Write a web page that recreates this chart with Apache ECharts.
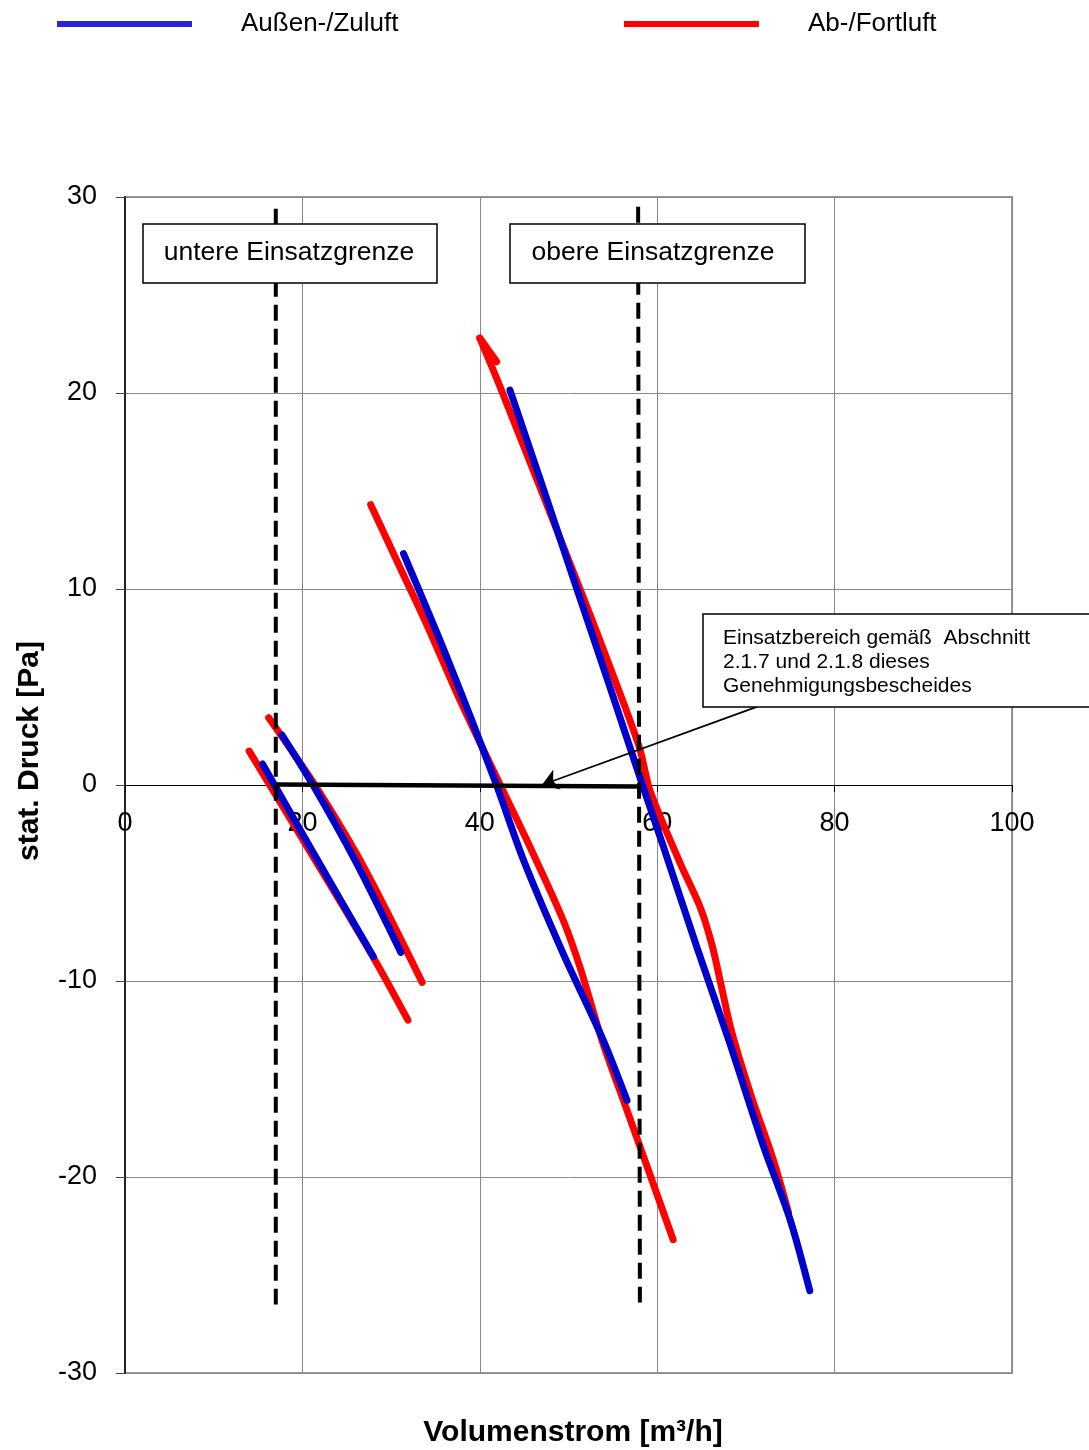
<!DOCTYPE html>
<html>
<head>
<meta charset="utf-8">
<script src="https://cdn.jsdelivr.net/npm/echarts@6/dist/echarts.min.js"></script>
<style>
html,body{margin:0;padding:0;background:#fff;}
#chart{width:1089px;height:1450px;}
</style>
</head>
<body>
<div id="chart"></div>
<script>
// ---- data ----
var seriesNames = ['Außen-/Zuluft', 'Ab-/Fortluft'];
var xTicks = [0, 20, 40, 60, 80, 100];
var yTicks = [-30, -20, -10, 0, 10, 20, 30];

// Ab-/Fortluft (red) curves
var redCurve1 = [[14.0, 1.73], [21.0, -3.5], [28.0, -8.8], [31.9, -12.0]];
var redCurve2 = [[16.2, 3.43], [21.4, 0.0], [26.9, -4.17], [33.5, -10.07]];
var redCurve3 = [[27.7, 14.3], [31.0, 11.1], [34.0, 8.2], [37.8, 4.3], [42.2, 0.1], [45.7, -3.2], [49.4, -6.9], [51.3, -9.3], [53.9, -13.2], [56.6, -16.6], [58.1, -18.5], [61.8, -23.2]];
var redCurve4Tip = [[40.0, 22.8], [41.9, 21.6]];
var redCurve4 = [[40.0, 22.8], [42.3, 20.3], [51.3, 10.0], [55.2, 5.4], [58.0, 1.9], [59.2, -0.3], [62.6, -4.0], [64.9, -6.3], [66.2, -8.2], [67.2, -10.2], [68.4, -12.6], [70.7, -16.0], [73.0, -19.0], [74.8, -21.8]];

// Außen-/Zuluft (blue) curves
var blueCurve1 = [[15.5, 1.07], [21.7, -3.83], [28.0, -8.76]];
var blueCurve2 = [[17.7, 2.55], [21.2, 0.0], [26.0, -3.9], [31.1, -8.54]];
var blueCurve3 = [[31.4, 11.8], [36.3, 6.5], [41.8, 0.1], [44.9, -3.8], [49.4, -8.6], [53.9, -13.0], [56.6, -16.1]];
var blueCurve4 = [[43.4, 20.15], [47.1, 15.2], [50.8, 10.2], [54.6, 5.1], [58.4, -0.08], [60.7, -3.15], [64.45, -8.25], [68.2, -13.2], [72.0, -18.45], [75.0, -22.2], [77.2, -25.8]];

// limits of use and marked operating range
var lowerLimit = [[17.0, 29.4], [17.0, -26.5]];
var upperLimit = [[57.85, 29.5], [58.05, -26.4]];
var rangeLine = [[17.0, 0.03], [57.9, -0.08]];
var arrowLine = [[71.3, 4.0], [47.0, 0.0]];

var lowerLabel = 'untere Einsatzgrenze';
var upperLabel = 'obere Einsatzgrenze';
var noteLines = ['Einsatzbereich gemäß  Abschnitt', '2.1.7 und 2.1.8 dieses', 'Genehmigungsbescheides'];

// ---- chart ----
var FONT = '"Liberation Sans", Arial, Helvetica, sans-serif';
var BLUE = '#0000CC';
var RED = '#FF0000';
var GRID = { left: 125, right: 77, top: 197, bottom: 77 };
var plotH = 1450 - GRID.top - GRID.bottom;
var zeroOffset = -plotH * (0 - yTicks[0]) / (yTicks[yTicks.length - 1] - yTicks[0]);

function curve(name, color, data, z) {
  return {
    type: 'line', name: name, data: data, smooth: 0.3, showSymbol: false, symbol: 'none',
    lineStyle: { color: color, width: 7, cap: 'round', join: 'round' },
    itemStyle: { color: color }, z: z, animation: false, silent: true
  };
}
function blackLine(data, width, dashed) {
  return {
    type: 'line', data: data, showSymbol: false, symbol: 'none',
    lineStyle: { color: '#000', width: width, type: dashed ? [16, 8] : 'solid' },
    z: 6, animation: false, silent: true
  };
}

var chart = echarts.init(document.getElementById('chart'), null, { renderer: 'canvas' });
chart.setOption({
  animation: false,
  backgroundColor: '#fff',
  textStyle: { fontFamily: FONT },
  grid: {
    left: GRID.left, right: GRID.right, top: GRID.top, bottom: GRID.bottom,
    outerBoundsMode: 'none', containLabel: false,
    show: true, borderColor: '#999', borderWidth: 2, backgroundColor: 'transparent'
  },
  legend: [
    {
      left: 52, top: 6, itemWidth: 135, itemHeight: 6, icon: 'rect',
      data: [{ name: seriesNames[0], itemStyle: { color: '#2B22E0' } }],
      textStyle: { fontSize: 26, color: '#000', fontFamily: FONT, padding: [0, 0, 0, 44] },
      selectedMode: false
    },
    {
      left: 619, top: 6, itemWidth: 135, itemHeight: 6, icon: 'rect',
      data: [{ name: seriesNames[1], itemStyle: { color: RED } }],
      textStyle: { fontSize: 26, color: '#000', fontFamily: FONT, padding: [0, 0, 0, 44] },
      selectedMode: false
    }
  ],
  xAxis: [
    {
      type: 'value', position: 'bottom', offset: zeroOffset,
      min: xTicks[0], max: xTicks[xTicks.length - 1], interval: 20,
      axisLine: { show: true, onZero: false, lineStyle: { color: '#000', width: 1 } },
      axisTick: { show: true, length: 7, lineStyle: { color: '#000' } },
      axisLabel: { fontSize: 27, color: '#000', margin: 25, fontFamily: FONT },
      splitLine: { show: true, lineStyle: { color: '#888', width: 1 } }
    },
    {
      type: 'value', position: 'bottom', min: xTicks[0], max: xTicks[xTicks.length - 1],
      axisLine: { show: false, onZero: false }, axisTick: { show: false }, axisLabel: { show: false },
      splitLine: { show: false },
      name: 'Volumenstrom [m³/h]', nameLocation: 'middle', nameGap: 45,
      nameTextStyle: { fontSize: 30, fontWeight: 'bold', color: '#000', fontFamily: FONT, padding: [0, 0, 0, 9] }
    }
  ],
  yAxis: {
    type: 'value', min: yTicks[0], max: yTicks[yTicks.length - 1], interval: 10,
    axisLine: { show: true, lineStyle: { color: '#222', width: 2 } },
    axisTick: { show: true, length: 9, lineStyle: { color: '#444' } },
    axisLabel: { fontSize: 27, color: '#000', margin: 28, fontFamily: FONT },
    splitLine: { show: true, lineStyle: { color: '#888', width: 1 } },
    name: 'stat. Druck [Pa]', nameLocation: 'middle', nameGap: 80, nameRotate: 90,
    nameTextStyle: { fontSize: 30, fontWeight: 'bold', color: '#000', fontFamily: FONT, padding: [0, 0, 0, 68] }
  },
  series: [
    curve(seriesNames[1], RED, redCurve1, 2),
    curve(seriesNames[1], RED, redCurve2, 2),
    curve(seriesNames[1], RED, redCurve3, 2),
    curve(seriesNames[1], RED, redCurve4, 2),
    curve(seriesNames[1], RED, redCurve4Tip, 2),
    curve(seriesNames[0], BLUE, blueCurve1, 3),
    curve(seriesNames[0], BLUE, blueCurve2, 3),
    curve(seriesNames[0], BLUE, blueCurve3, 3),
    curve(seriesNames[0], BLUE, blueCurve4, 3),
    blackLine(lowerLimit, 4, true),
    blackLine(upperLimit, 4, true),
    blackLine(rangeLine, 4.5, false),
    {
      type: 'lines', coordinateSystem: 'cartesian2d', polyline: false,
      data: [{ coords: arrowLine }],
      symbol: ['none', 'arrow'], symbolSize: [10, 16],
      lineStyle: { color: '#000', width: 1.8, opacity: 1, curveness: 0 },
      z: 7, animation: false, silent: true
    }
  ],
  graphic: [
    {
      type: 'group', z: 100,
      children: [
        { type: 'rect', shape: { x: 143, y: 224, width: 294, height: 59 }, style: { fill: '#fff', stroke: '#000', lineWidth: 1.5 }, z: 100 },
        { type: 'text', x: 289, y: 253, style: { text: lowerLabel, font: '26.5px ' + FONT, fill: '#000', align: 'center', verticalAlign: 'middle' }, z: 101 },
        { type: 'rect', shape: { x: 510, y: 224, width: 295, height: 59 }, style: { fill: '#fff', stroke: '#000', lineWidth: 1.5 }, z: 100 },
        { type: 'text', x: 653, y: 253, style: { text: upperLabel, font: '26.5px ' + FONT, fill: '#000', align: 'center', verticalAlign: 'middle' }, z: 101 },
        { type: 'rect', shape: { x: 703, y: 614, width: 395, height: 93 }, style: { fill: '#fff', stroke: '#000', lineWidth: 1.5 }, z: 100 },
        { type: 'text', x: 723, y: 626, style: { text: noteLines.join('\n'), font: '21px ' + FONT, lineHeight: 24, fill: '#000', align: 'left', verticalAlign: 'top' }, z: 101 }
      ]
    }
  ]
});
</script>
</body>
</html>
